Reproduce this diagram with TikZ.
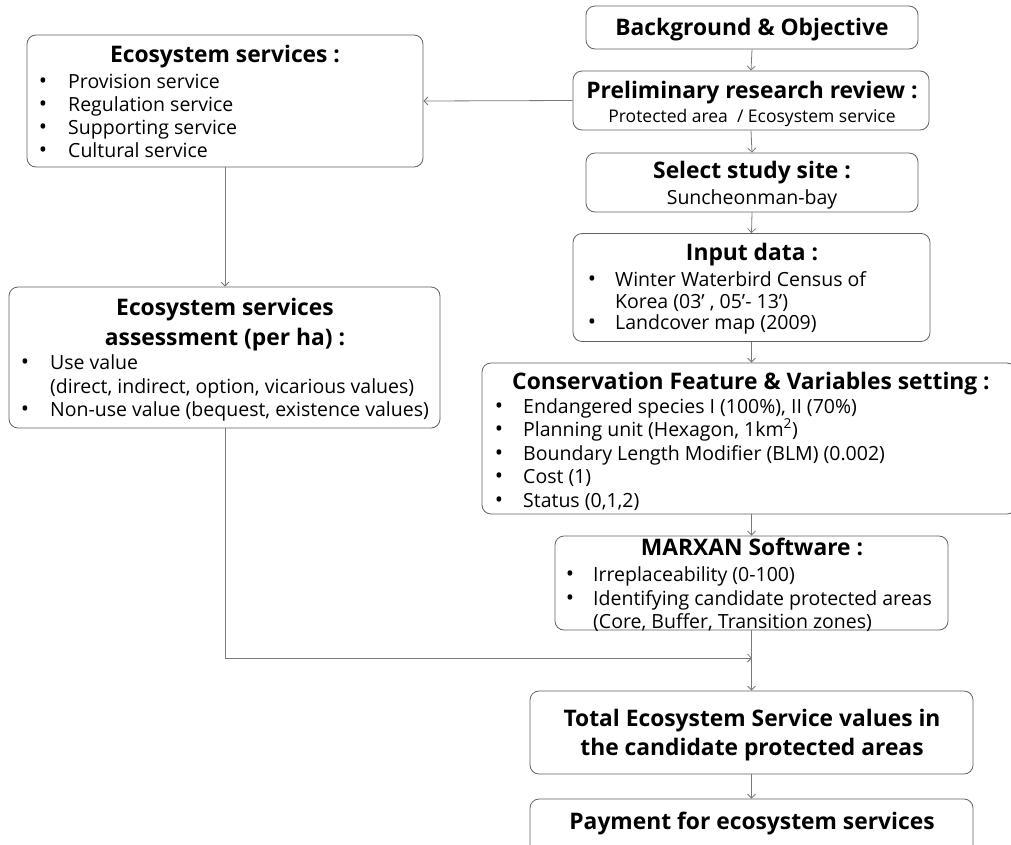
\documentclass[tikz,border=0pt]{standalone}
\usepackage{fontspec}
\setmainfont{Open Sans}
\usetikzlibrary{arrows.meta}
\tikzset{
  box/.style={draw=black!62, line width=0.8pt, rounded corners=9pt, inner sep=0pt, fill=white},
  arr/.style={draw=black!52, line width=0.8pt, -{Straight Barb[length=4pt,width=8pt]}},
  ttl/.style={inner sep=0pt, anchor=base, yshift=-7pt, font=\fontsize{22.8}{26}\selectfont\bfseries},
  txt/.style={inner sep=0pt, anchor=base west, yshift=-6pt, font=\fontsize{19.5}{23}\selectfont},
  bul/.style={inner sep=0pt, anchor=base, yshift=-6pt, font=\fontsize{22}{23}\selectfont},
}
\begin{document}
\begin{tikzpicture}[x=1pt,y=-1pt]
\useasboundingbox (0,0) rectangle (1011,844);
\begin{scope}
\clip (0,0) rectangle (1011,844);
% boxes
\node[box, minimum width=332pt, minimum height=43pt] (bg) at (752,27.5) {};
\node[box, minimum width=356pt, minimum height=59pt] (pre) at (751,100.5) {};
\node[box, minimum width=332pt, minimum height=59pt] (site) at (752,182.5) {};
\node[box, minimum width=357pt, minimum height=108pt] (inp) at (751.5,287.5) {};
\node[box, minimum width=534pt, minimum height=151pt] (cons) at (749,438.5) {};
\node[box, minimum width=393pt, minimum height=94pt] (mx) at (751.5,583) {};
\node[box, minimum width=443pt, minimum height=83pt] (tot) at (751.5,732.5) {};
\node[box, minimum width=443pt, minimum height=60pt] (pay) at (751.5,829) {};
\node[box, minimum width=396pt, minimum height=132pt] (es) at (225,101) {};
\node[box, minimum width=431pt, minimum height=141pt] (esa) at (224.5,357.5) {};
\end{scope}
% texts
\node[ttl] (tbg) at (752,28) {Background \& Objective};
\node[ttl] (tpre) at (752,91) {Preliminary research review :};
\node[txt, anchor=base, yshift=1pt, font=\fontsize{17.5}{20}\selectfont] (spre) at (752,117) {Protected area\ \ / Ecosystem\ service};
\node[txt, anchor=base] (ssite) at (752,198) {Suncheonman-bay};
\node[ttl] (tsite) at (752,171) {Select study site :};
\node[ttl] (tinp) at (752,253) {Input data :};
\node[bul] (bi1) at (592,280) {•};
\node[txt] (li1) at (615,280) {Winter Waterbird Census of};
\node[txt] (li2) at (615,302) {Korea (03’ , 05’- 13’)};
\node[bul] (bi3) at (592,323) {•};
\node[txt] (li3) at (615,323) {Landcover map (2009)};
\node[ttl] (tcons) at (751,382) {Conservation Feature \& Variables setting :};
\node[bul] (bc1) at (499,407) {•};
\node[txt] (lc1) at (523,407) {Endangered species I (100\%), II (70\%)};
\node[bul] (bc2) at (499,430.5) {•};
\node[txt] (lc2) at (523,430.5) {Planning unit (Hexagon, 1km\textsuperscript{2})};
\node[bul] (bc3) at (499,454) {•};
\node[txt] (lc3) at (523,454) {Boundary Length Modifier (BLM) (0.002)};
\node[bul] (bc4) at (499,477.5) {•};
\node[txt] (lc4) at (523,477.5) {Cost (1)};
\node[bul] (bc5) at (499,501) {•};
\node[txt] (lc5) at (523,501) {Status (0,1,2)};
\node[ttl] (tmx) at (752,548) {MARXAN Software :};
\node[bul] (bm1) at (570,575) {•};
\node[txt] (lm1) at (593,575) {Irreplaceability (0-100)};
\node[bul] (bm2) at (570,599) {•};
\node[txt] (lm2) at (593,599) {Identifying candidate protected areas};
\node[txt] (lm3) at (593,622) {(Core, Buffer, Transition zones)};
\node[ttl] (ttot1) at (752,719) {Total Ecosystem Service values in};
\node[ttl] (ttot2) at (752,748) {the candidate protected areas};
\node[ttl] (tpay) at (752,822) {Payment for ecosystem services};
\node[ttl] (tes) at (225,55) {Ecosystem services :};
\node[bul] (be1) at (43,82) {•};
\node[txt] (le1) at (68,82) {Provision service};
\node[bul] (be2) at (43,105) {•};
\node[txt] (le2) at (68,105) {Regulation service};
\node[bul] (be3) at (43,128) {•};
\node[txt] (le3) at (68,128) {Supporting service};
\node[bul] (be4) at (43,151) {•};
\node[txt] (le4) at (68,151) {Cultural service};
\node[ttl] (tesa1) at (225,308) {Ecosystem services};
\node[ttl] (tesa2) at (225,338) {assessment (per ha) :};
\node[bul] (ba1) at (25,363) {•};
\node[txt] (la1) at (50,363) {Use value};
\node[txt] (la2) at (50,387) {(direct, indirect, option, vicarious values)};
\node[bul] (ba3) at (25,410) {•};
\node[txt] (la3) at (50,410) {Non-use value (bequest, existence values)};
% connectors
\coordinate (j) at (752,658);
\draw[arr] (bg.south) -- (pre.north);
\draw[arr] (pre.west) -- (es.east);
\draw[arr] (pre.south) -- (site.north);
\draw[arr] (site.south) -- (inp.north);
\draw[arr] (inp.south) -- (cons.north -| inp.south);
\draw[arr] (cons.south -| inp.south) -- (mx.north -| inp.south);
\draw[arr] (mx.south -| inp.south) -- (tot.north -| inp.south);
\draw[arr] (tot.south -| inp.south) -- (pay.north -| inp.south);
\draw[arr] (es.south) -- (esa.north -| es.south);
\draw[arr] (esa.south -| es.south) |- (j);
\end{tikzpicture}
\end{document}
